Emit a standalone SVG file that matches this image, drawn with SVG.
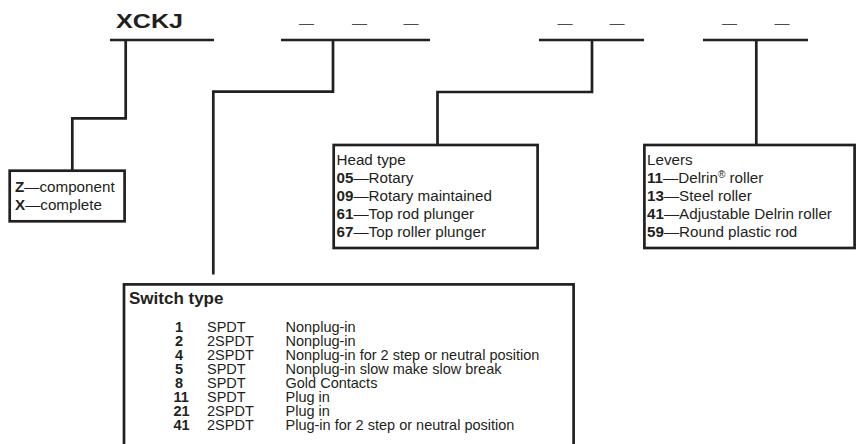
<svg xmlns="http://www.w3.org/2000/svg" width="857" height="444" viewBox="0 0 857 444">
<style>
  text { font-family: "Liberation Sans", Arial, sans-serif; fill: #231f20; }
  .t { font-size: 14.5px; }
  .bt { font-size: 15.2px; }
  .b { font-weight: bold; }
  .box { fill: #fff; stroke: #231f20; stroke-width: 2.7; }
  .ln { fill: none; stroke: #231f20; stroke-width: 2.7; stroke-linejoin: miter; stroke-linecap: butt; }
  .dash { font-size: 15px; fill: #4d4d4d; text-anchor: middle; }
</style>
<rect width="857" height="444" fill="#fff"/>
<g id="header">
  <text x="116" y="28" class="b" font-size="20" textLength="67" lengthAdjust="spacingAndGlyphs">XCKJ</text>
  <text class="dash" x="306.5" y="28">—</text>
  <text class="dash" x="359.5" y="28">—</text>
  <text class="dash" x="411" y="28">—</text>
  <text class="dash" x="565" y="28">—</text>
  <text class="dash" x="617" y="28">—</text>
  <text class="dash" x="729.5" y="28">—</text>
  <text class="dash" x="782" y="28">—</text>
</g>
<g id="connectors">
  <line class="ln" x1="110" y1="40" x2="214" y2="40"/>
  <line class="ln" x1="281" y1="40" x2="430" y2="40"/>
  <line class="ln" x1="539" y1="40" x2="644" y2="40"/>
  <line class="ln" x1="703" y1="40" x2="808" y2="40"/>
  <polyline class="ln" points="125.7,40 125.7,118.3 72.3,118.3 72.3,170.7"/>
  <polyline class="ln" points="333,40 333,91.7 213.3,91.7 213.3,274.5"/>
  <polyline class="ln" points="592,40 592,92 437.5,92 437.5,145"/>
  <polyline class="ln" points="756.3,40 756.3,145"/>
</g>
<g id="node-assembly">
  <rect class="box" x="9.7" y="170.7" width="114.9" height="50.6"/>
  <text class="bt" x="15" y="191.7"><tspan class="b">Z</tspan>—component</text>
  <text class="bt" x="15" y="210"><tspan class="b">X</tspan>—complete</text>
</g>
<g id="node-head">
  <rect class="box" x="333.7" y="145" width="203.9" height="103"/>
  <text class="bt" x="336.5" y="164.5">Head type</text>
  <text class="bt" x="336.5" y="182.5"><tspan class="b">05</tspan>—Rotary</text>
  <text class="bt" x="336.5" y="200.5"><tspan class="b">09</tspan>—Rotary maintained</text>
  <text class="bt" x="336.5" y="218.5"><tspan class="b">61</tspan>—Top rod plunger</text>
  <text class="bt" x="336.5" y="236.5"><tspan class="b">67</tspan>—Top roller plunger</text>
</g>
<g id="node-levers">
  <rect class="box" x="644.4" y="145" width="210.2" height="103"/>
  <text class="bt" x="647" y="164.5">Levers</text>
  <text class="bt" x="647" y="182.5"><tspan class="b">11</tspan>—Delrin<tspan font-size="10" dy="-5">®</tspan><tspan dy="5"> roller</tspan></text>
  <text class="bt" x="647" y="200.5"><tspan class="b">13</tspan>—Steel roller</text>
  <text class="bt" x="647" y="218.5"><tspan class="b">41</tspan>—Adjustable Delrin roller</text>
  <text class="bt" x="647" y="236.5"><tspan class="b">59</tspan>—Round plastic rod</text>
</g>
<g id="node-switch">
  <rect class="box" x="124" y="284.4" width="449.6" height="200"/>
  <text class="b" font-size="17" x="129" y="304">Switch type</text>
  <text class="t">
    <tspan class="b" x="175" y="332">1</tspan><tspan x="207" y="332">SPDT</tspan><tspan x="285.5" y="332">Nonplug-in</tspan>
    <tspan class="b" x="175" y="346">2</tspan><tspan x="207" y="346">2SPDT</tspan><tspan x="285.5" y="346">Nonplug-in</tspan>
    <tspan class="b" x="175" y="360">4</tspan><tspan x="207" y="360">2SPDT</tspan><tspan x="285.5" y="360">Nonplug-in for 2 step or neutral position</tspan>
    <tspan class="b" x="175" y="374">5</tspan><tspan x="207" y="374">SPDT</tspan><tspan x="285.5" y="374">Nonplug-in slow make slow break</tspan>
    <tspan class="b" x="175" y="388">8</tspan><tspan x="207" y="388">SPDT</tspan><tspan x="285.5" y="388">Gold Contacts</tspan>
    <tspan class="b" x="173.5" y="402">11</tspan><tspan x="207" y="402">SPDT</tspan><tspan x="285.5" y="402">Plug in</tspan>
    <tspan class="b" x="173.5" y="416">21</tspan><tspan x="207" y="416">2SPDT</tspan><tspan x="285.5" y="416">Plug in</tspan>
    <tspan class="b" x="173.5" y="430">41</tspan><tspan x="207" y="430">2SPDT</tspan><tspan x="285.5" y="430">Plug-in for 2 step or neutral position</tspan>
  </text>
</g>
</svg>
